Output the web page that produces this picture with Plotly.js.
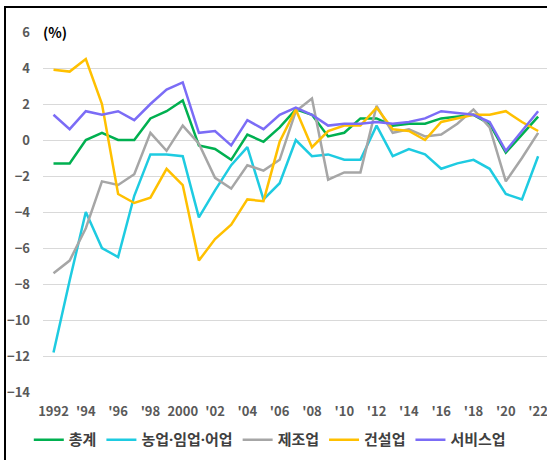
<!DOCTYPE html>
<html>
<head>
<meta charset="utf-8">
<script src="https://cdn.plot.ly/plotly-3.0.1.min.js"></script>
<style>
  html, body { margin: 0; padding: 0; background: #ffffff; }
  #wrap { position: relative; width: 547px; height: 460px; overflow: hidden; }
  #frame { position: absolute; left: 4px; top: 6px; width: 700px; height: 700px;
           border-left: 2px solid #000; border-top: 2px solid #000; }
  #chart { position: absolute; left: 0; top: 0; width: 547px; height: 460px; }
</style>
</head>
<body>
<div id="wrap">
  <div id="frame"></div>
  <div id="chart"></div>
</div>
<script>
const years = [1992,1993,1994,1995,1996,1997,1998,1999,2000,2001,2002,2003,2004,2005,2006,2007,2008,2009,2010,2011,2012,2013,2014,2015,2016,2017,2018,2019,2020,2021,2022];

const total   = [-1.3,-1.3,0.0,0.4,0.0,0.0,1.2,1.6,2.2,-0.3,-0.5,-1.1,0.3,-0.1,0.7,1.7,1.4,0.2,0.4,1.2,1.2,0.8,0.9,0.9,1.2,1.3,1.4,0.9,-0.7,0.3,1.3];
const agri    = [-11.8,-7.8,-4.0,-6.0,-6.5,-3.1,-0.8,-0.8,-0.9,-4.3,-2.8,-1.4,-0.4,-3.3,-2.4,0.0,-0.9,-0.8,-1.1,-1.1,0.8,-0.9,-0.5,-0.8,-1.6,-1.3,-1.1,-1.6,-3.0,-3.3,-0.9];
const manu    = [-7.4,-6.7,-4.9,-2.3,-2.5,-1.9,0.4,-0.6,0.8,-0.2,-2.1,-2.7,-1.4,-1.7,-1.1,1.6,2.3,-2.2,-1.8,-1.8,1.9,0.4,0.6,0.2,0.3,0.9,1.7,0.7,-2.3,-1.0,0.4];
const constr  = [3.9,3.8,4.5,2.0,-3.0,-3.5,-3.2,-1.6,-2.5,-6.7,-5.5,-4.7,-3.3,-3.4,-0.1,1.7,-0.4,0.5,0.8,0.8,1.8,0.6,0.5,0.0,1.0,1.2,1.4,1.4,1.6,1.0,0.5];
const service = [1.4,0.6,1.6,1.4,1.6,1.1,2.0,2.8,3.2,0.4,0.5,-0.3,1.1,0.6,1.4,1.8,1.4,0.8,0.9,0.9,1.0,0.9,1.0,1.2,1.6,1.5,1.4,1.0,-0.6,0.5,1.6];

const seriesNames  = ["총계","농업·임업·어업","제조업","건설업","서비스업"];
const seriesValues = [total, agri, manu, constr, service];
const seriesColors = ["#00B050","#1ECBE1","#A6A6A6","#FFC000","#7B6CF6"];

const xTickVals = [1992,1994,1996,1998,2000,2002,2004,2006,2008,2010,2012,2014,2016,2018,2020,2022];
const xTickText = ["1992","'94","'96","'98","2000","'02","'04","'06","'08","'10","'12","'14","'16","'18","'20","'22"];
const yTickVals = [6,4,2,0,-2,-4,-6,-8,-10,-12,-14];
const unitLabel = "(%)";

const FONT = "'Noto Sans CJK KR', 'Noto Sans', sans-serif";
const LEGEND_FONT = "'Noto Sans', 'Noto Sans CJK KR', sans-serif";

const traces = seriesNames.map((name, i) => ({
  type: 'scatter',
  mode: 'lines',
  name: name,
  x: years,
  y: seriesValues[i],
  line: { color: seriesColors[i], width: 2.5 },
  hoverinfo: 'skip'
}));

const layout = {
  width: 547,
  height: 460,
  margin: { l: 43, r: 0, t: 32, b: 68 },
  paper_bgcolor: 'rgba(0,0,0,0)',
  plot_bgcolor: 'rgba(0,0,0,0)',
  showlegend: true,
  legend: {
    orientation: 'h',
    x: 0.45, xanchor: 'center',
    y: -0.133, yanchor: 'middle',
    font: { family: LEGEND_FONT, size: 15, color: '#404040', weight: 'bold' },
    itemwidth: 30,
    tracegroupgap: 0
  },
  xaxis: {
    range: [1991.35, 2022.55],
    tickmode: 'array',
    tickvals: xTickVals,
    ticktext: xTickText,
    showgrid: false,
    zeroline: false,
    showline: false,
    ticks: '',
    ticklabelstandoff: 10,
    ticklabeloverflow: 'allow',
    tickfont: { family: FONT, size: 13, color: '#595959', weight: 'bold' }
  },
  yaxis: {
    range: [-14, 6],
    tickmode: 'array',
    tickvals: yTickVals,
    showgrid: true,
    gridcolor: '#D9D9D9',
    gridwidth: 1,
    zeroline: false,
    showline: false,
    ticks: '',
    ticklabelstandoff: 12,
    tickfont: { family: FONT, size: 13, color: '#595959', weight: 'bold' }
  },
  annotations: [{
    text: unitLabel,
    xref: 'paper', yref: 'paper',
    x: -0.004, y: 1.0,
    xanchor: 'left', yanchor: 'middle',
    showarrow: false,
    bgcolor: '#ffffff',
    font: { family: FONT, size: 14, color: '#000000', weight: 'bold' }
  }]
};

Plotly.newPlot('chart', traces, layout, { displayModeBar: false, staticPlot: true });
</script>
</body>
</html>
